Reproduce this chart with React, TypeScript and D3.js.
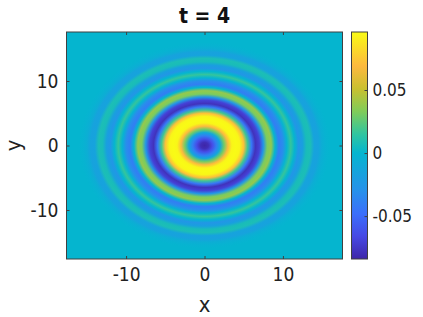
import React, { useEffect, useRef } from 'react';
import * as d3 from 'd3';

const W = 423;
const H = 317;
const titleText = 't = 4';
const xTicks = [-10, 0, 10];
const yTicks = [-10, 0, 10];
const barTicks = [-0.05, 0, 0.05];
const barRange = [-0.084, 0.096];
const axisLimit = 17.6;

// radial cross section of the field
const radii = [0, 0.5, 1, 1.5, 2, 2.5, 3, 3.5, 4, 4.5, 5, 5.5, 6, 6.5, 7, 7.5, 8, 8.5, 9, 9.5, 10, 10.5, 11, 11.5, 12, 12.5, 13, 13.5, 14, 14.5, 15, 15.5, 16];
const values = [-0.084, -0.08, -0.064, -0.04, -0.012, 0.03, 0.07, 0.094, 0.096, 0.094, 0.072, 0.018, -0.044, -0.078, -0.07, -0.026, 0.032, 0.038, 0.0, -0.04, -0.032, -0.002, 0.016, 0.0, -0.026, -0.018, 0.007, 0.008, -0.015, -0.016, -0.006, -0.002, 0];

// colormap stops, bottom to top of the colorbar
const cmapPos = [0, 0.1, 0.2, 0.3, 0.467, 0.55, 0.65, 0.75, 0.85, 1];
const cmapColors = ['#3e26a8', '#4749e5', '#3b6ffb', '#2791ea', '#05b5cf', '#30c5a0', '#80cc59', '#c9c030', '#fdb93f', '#f9fb15'];

export default function App() {
    const ref = useRef<SVGSVGElement>(null);

    useEffect(() => {
        drawChart();
        // eslint-disable-next-line
    }, []);

    function drawChart() {
        const plot = { left: 66.5, right: 342.5, top: 32, bottom: 259 };
        const bar = { left: 351.5, right: 367.5, top: 32, bottom: 259 };
        const font = '"DejaVu Sans Condensed", "DejaVu Sans", sans-serif';
        const axisColor = '#404040';
        const textColor = '#222';

        const svg = d3.select(ref.current);
        svg.selectAll('*').remove();

        const x = d3.scaleLinear().domain([-axisLimit, axisLimit]).range([plot.left, plot.right]);
        const y = d3.scaleLinear().domain([-axisLimit, axisLimit]).range([plot.bottom, plot.top]);
        const barY = d3.scaleLinear().domain(barRange).range([bar.bottom, bar.top]);

        const posOf = d3.scaleLinear().domain(barRange).range([0, 1]);
        const cmap = d3.scaleLinear<string>().domain(cmapPos).range(cmapColors).interpolate(d3.interpolateRgb);
        const color = (v: number) => cmap(posOf(v));

        const defs = svg.append('defs');
        const rMax = radii[radii.length - 1];

        // field: radial gradient built from the cross section
        const field = defs.append('radialGradient').attr('id', 'field');
        field
            .selectAll('stop')
            .data(radii)
            .enter()
            .append('stop')
            .attr('offset', (d) => d / rMax)
            .attr('stop-color', (d, i) => color(values[i]));

        const barGrad = defs.append('linearGradient').attr('id', 'barGrad').attr('x1', 0).attr('x2', 0).attr('y1', 1).attr('y2', 0);
        barGrad
            .selectAll('stop')
            .data(cmapPos)
            .enter()
            .append('stop')
            .attr('offset', (d) => d)
            .attr('stop-color', (d, i) => cmapColors[i]);

        defs.append('clipPath')
            .attr('id', 'plotClip')
            .append('rect')
            .attr('x', plot.left)
            .attr('y', plot.top)
            .attr('width', plot.right - plot.left)
            .attr('height', plot.bottom - plot.top);

        svg.append('rect')
            .attr('x', plot.left)
            .attr('y', plot.top)
            .attr('width', plot.right - plot.left)
            .attr('height', plot.bottom - plot.top)
            .attr('fill', color(0));

        svg.append('ellipse')
            .attr('clip-path', 'url(#plotClip)')
            .attr('cx', x(0))
            .attr('cy', y(0))
            .attr('rx', x(rMax) - x(0))
            .attr('ry', y(0) - y(rMax))
            .attr('fill', 'url(#field)');

        svg.append('rect')
            .attr('x', bar.left)
            .attr('y', bar.top)
            .attr('width', bar.right - bar.left)
            .attr('height', bar.bottom - bar.top)
            .attr('fill', 'url(#barGrad)');

        const styleAxis = (g: any, size: number) => {
            g.select('.domain').remove();
            g.selectAll('line').attr('stroke', axisColor);
            g.selectAll('text').attr('fill', textColor).style('font-family', font).style('font-size', `${size}px`);
        };
        const fmt = (d: any) => String(d).replace('\u2212', '-');

        // tick marks point inward, labels sit outside, so labels get their own padding
        svg.append('g')
            .attr('transform', `translate(0,${plot.bottom})`)
            .call(d3.axisBottom(x).tickValues(xTicks).tickSize(-3).tickPadding(9).tickFormat(fmt))
            .call((g: any) => styleAxis(g, 19));
        svg.append('g')
            .attr('transform', `translate(${plot.left},0)`)
            .call(d3.axisLeft(y).tickValues(yTicks).tickSize(-3).tickPadding(8).tickFormat(fmt))
            .call((g: any) => styleAxis(g, 19));
        svg.append('g')
            .attr('transform', `translate(0,${plot.top})`)
            .call(d3.axisTop(x).tickValues(xTicks).tickSize(-3).tickFormat(() => ''))
            .call((g: any) => styleAxis(g, 19));
        svg.append('g')
            .attr('transform', `translate(${plot.right},0)`)
            .call(d3.axisRight(y).tickValues(yTicks).tickSize(-3).tickFormat(() => ''))
            .call((g: any) => styleAxis(g, 19));
        svg.append('g')
            .attr('transform', `translate(${bar.right},0)`)
            .call(d3.axisRight(barY).tickValues(barTicks).tickSize(-3).tickPadding(5).tickFormat(fmt))
            .call((g: any) => styleAxis(g, 17));

        // boxes
        [plot, bar].forEach((b) => {
            svg.append('rect')
                .attr('x', b.left)
                .attr('y', b.top)
                .attr('width', b.right - b.left)
                .attr('height', b.bottom - b.top)
                .attr('fill', 'none')
                .attr('stroke', axisColor)
                .attr('stroke-width', 1);
        });

        svg.append('text')
            .attr('x', x(0))
            .attr('y', 23)
            .attr('text-anchor', 'middle')
            .attr('fill', '#111')
            .style('font-family', font)
            .style('font-size', '21px')
            .style('font-weight', 'bold')
            .text(titleText);

        svg.append('text')
            .attr('x', x(0))
            .attr('y', 312)
            .attr('text-anchor', 'middle')
            .attr('fill', textColor)
            .style('font-family', font)
            .style('font-size', '22px')
            .text('x');

        svg.append('text')
            .attr('transform', `translate(21,${y(0)}) rotate(-90)`)
            .attr('text-anchor', 'middle')
            .attr('fill', textColor)
            .style('font-family', font)
            .style('font-size', '22px')
            .text('y');
    }

    return <svg ref={ref} width={W} height={H} style={{ position: 'absolute', left: 0, top: 0, background: '#fff' }} />;
}
